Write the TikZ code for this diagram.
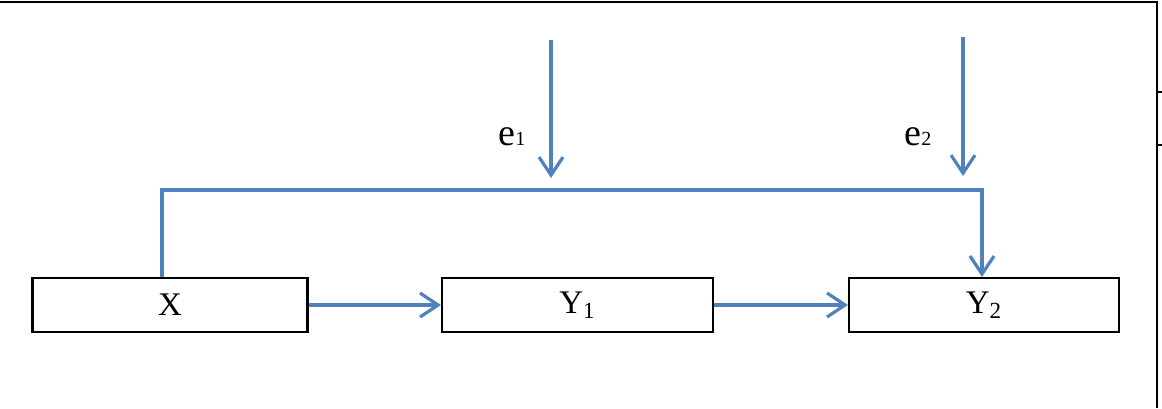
\documentclass[tikz,border=0pt]{standalone}
\usepackage{fontspec}
\setmainfont{Liberation Serif}
\usetikzlibrary{arrows.meta}
\definecolor{lineblue}{RGB}{79,129,189}
\tikzset{
  box/.style={draw=black, line width=1.1pt, minimum height=27pt, inner sep=0pt, font=\fontsize{16.5}{18}\selectfont},
  conn/.style={draw=lineblue, line width=1.6pt, -{Straight Barb[length=9pt,width=12pt,line width=1.6pt]}},
  frame/.style={draw=black, line width=1.1pt},
  lab/.style={font=\fontsize{19}{21}\selectfont, inner sep=0pt}
}
\newcommand{\smallsub}[1]{{\fontsize{10}{11}\selectfont #1}}
\begin{document}
\begin{tikzpicture}[x=0.5pt,y=-0.5pt]
\useasboundingbox (0,0) rectangle (1162,408);
% frame
\draw[frame] (0,2) -- (1157,2) -- (1157,408);
\draw[frame] (1157,92) -- (1162,92);
\draw[frame] (1157,145) -- (1162,145);
% boxes
\node[box, minimum width=137.5pt] (X) at (170,305) {X};
\node[box, minimum width=135.5pt] (Y1) at (577.5,305) {Y\textsubscript{1}};
\node[box, minimum width=135pt] (Y2) at (984,305) {Y\textsubscript{2}};
% horizontal arrows
\draw[conn] (X) -- (Y1);
\draw[conn] (Y1) -- (Y2);
% feedback line
\coordinate (c1) at (162,190);
\coordinate (c2) at (982,190);
\draw[conn] (X.north -| c1) -- (c1) -- (c2) -- (Y2.north -| c2);
% error terms
\coordinate (e1s) at (551,40);
\coordinate (e1e) at (551,178);
\coordinate (e2s) at (963,37);
\coordinate (e2e) at (963,176);
\draw[conn] (e1s) -- (e1e);
\draw[conn] (e2s) -- (e2e);
\node[lab, anchor=base west] (e1) at (498,145) {e\smallsub{1}};
\node[lab, anchor=base west] (e2) at (904,145) {e\smallsub{2}};
\end{tikzpicture}
\end{document}
